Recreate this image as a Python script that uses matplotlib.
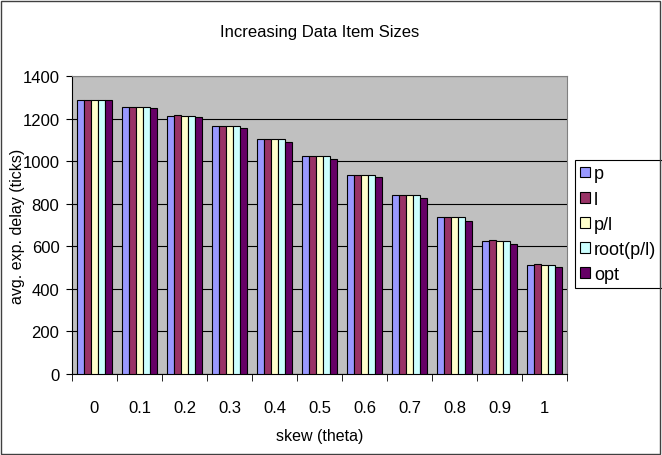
import numpy as np
import matplotlib.pyplot as plt
from matplotlib.patches import Rectangle

plt.rcParams['font.family'] = ['Liberation Sans', 'DejaVu Sans']

skew = ['0', '0.1', '0.2', '0.3', '0.4', '0.5', '0.6', '0.7', '0.8', '0.9', '1']
p = [1288, 1255, 1212, 1164, 1106, 1023, 934, 841, 737, 626, 513]
l = [1288, 1255, 1217, 1164, 1106, 1023, 934, 841, 737, 629, 518]
p_over_l = [1288, 1255, 1212, 1164, 1106, 1023, 934, 841, 737, 626, 513]
root_p_over_l = [1288, 1255, 1212, 1164, 1106, 1023, 934, 841, 737, 626, 513]
opt = [1285, 1250, 1208, 1154, 1090, 1012, 924, 825, 720, 612, 504]

series = [('p', p, '#9999FF'),
          ('l', l, '#993366'),
          ('p/l', p_over_l, '#FFFFCC'),
          ('root(p/l)', root_p_over_l, '#CCFFFF'),
          ('opt', opt, '#660066')]

W, H = 662, 456
fig = plt.figure(figsize=(W / 100, H / 100), dpi=100)

# frame round the whole chart
fig.patches.append(Rectangle((1 / W, 1 / H), (W - 3) / W, (H - 3) / H,
                             transform=fig.transFigure, fill=False,
                             edgecolor='#404040', linewidth=1))

ax = fig.add_axes([72 / W, (H - 375) / H, 495 / W, 298 / H])
ax.set_facecolor('#C0C0C0')

x = np.arange(len(skew))
w = 1 / 6.5
for i, (name, vals, col) in enumerate(series):
    ax.bar(x + (i - 2) * w, vals, width=w, color=col, edgecolor='black',
           linewidth=0.8, label=name, zorder=3)

ax.set_xlim(-0.5, len(skew) - 0.5)
ax.set_ylim(0, 1400)
ax.set_yticks(range(0, 1401, 200))
ax.yaxis.grid(True, color='black', linewidth=0.8, zorder=1)
ax.set_axisbelow(True)

ax.set_xticks(x)
ax.set_xticklabels(skew)
ax.set_xticks(np.arange(-0.5, len(skew), 1), minor=True)
ax.tick_params(axis='x', which='major', length=0, pad=19, labelsize=12)
ax.tick_params(axis='x', which='minor', length=5, direction='out', color='black')
ax.tick_params(axis='y', length=4, direction='out', labelsize=12, pad=5)

for side in ['top', 'right']:
    ax.spines[side].set_color('#808080')
for side in ['left', 'bottom']:
    ax.spines[side].set_color('black')

ax.set_xlabel('skew (theta)', fontsize=11.5, va='center')
ax.xaxis.set_label_coords(320 / W, 1 - 437 / H, transform=fig.transFigure)
ax.set_ylabel('avg. exp. delay (ticks)', fontsize=11.5, va='center')
ax.yaxis.set_label_coords(18 / W, 1 - 226 / H, transform=fig.transFigure)
fig.text(320 / W, 1 - 32 / H, 'Increasing Data Item Sizes', fontsize=12,
         ha='center', va='center')

leg = ax.legend(loc='upper left', bbox_to_anchor=(575 / W, 1 - 161 / H),
                bbox_transform=fig.transFigure, fontsize=13, frameon=True,
                fancybox=False, edgecolor='black', framealpha=1,
                handlelength=0.55, handleheight=0.55, handletextpad=0.2,
                labelspacing=0.45, borderpad=0.3, borderaxespad=0)
leg.get_frame().set_linewidth(0.8)

fig.savefig('out.png', dpi=100)
